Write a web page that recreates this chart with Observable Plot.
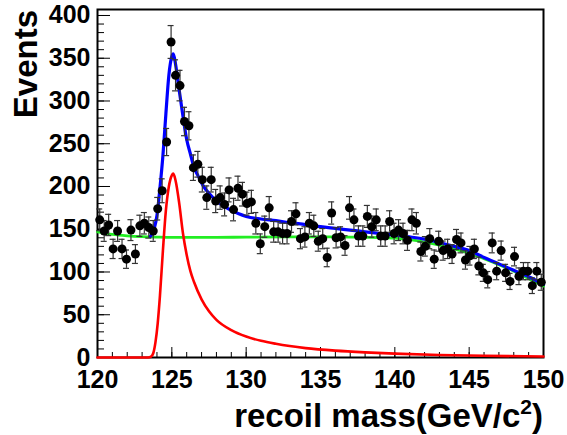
<!DOCTYPE html>
<html><head><meta charset="utf-8">
<script src="https://cdn.jsdelivr.net/npm/d3@7"></script>
<script src="https://cdn.jsdelivr.net/npm/@observablehq/plot@0.6"></script>
<style>body{margin:0;background:#fff}#chart{width:567px;height:435px}</style>
</head><body><div id="chart"></div>
<script>
// Histogram: 100 bins of 0.3 GeV from 120 to 150
const histLow = 120, binWidth = 0.3;
const counts = [161,148,155,127,148,127,115,149,121,154,
  157,152,148,174,195,252,369,330,318,276,
  271,222,226,208,187,208,183,187,179,196,
  173,198,191,180,182,157,133,153,175,147,
  147,145,145,159,168,139,141,157,154,136,
  139,117,169,140,141,131,175,161,142,142,
  165,153,161,142,142,159,145,149,145,137,
  161,157,124,130,139,115,136,125,127,121,
  138,134,114,119,127,107,99,91,134,101,
  125,99,89,118,95,101,101,84,101,88];

// Signal (red)
const redX = [120,123.4,123.6,123.75,123.9,124.05,124.2,124.4,124.6,124.8,125.0,125.1,125.25,125.5,125.75,126.0,126.25,126.5,127,127.5,128,129,130,131,132,134,136,138,140,143,146,150];
const redY = [0,0,1,5,18,40,72,125,172,200,213,215,207,180,145,120,101,88,68,54,44,32,24.5,19.5,16,11,8,6,4.5,3,2,1.2];
// Background (green)
const greenX = [120,121,122,123,124,125,128,130,133,136,138,139,140,141,142,143,144,145,146,147,148,149,150];
const greenY = [147,144,142.3,141.3,140.8,140.5,140.5,140.8,141,141,140.5,140.2,139.5,137.8,135,131.3,127,122,115.5,108.5,101,92.5,83.5];
// Total fit (blue)
const blueX = [123.55,123.8,124.0,124.2,124.4,124.6,124.8,125.0,125.1,125.25,125.45,125.7,126.0,126.25,126.5,126.75,127.1,127.5,128,128.5,129,129.5,130,131,132,133,134,135,136,137,138,139,140,141,142,143,144,145,146,147,148,149,150];
const blueY = [141.5,150,166,198,236,285,330,352,355,343,318,288,255,238,222,213,201,192,183,177,172,168,165,162,160,157.5,155.5,153,151,149,147,145,143,141,138.5,134.5,130,125,117,109.5,102,94.5,85.5];

const xMajor = [120,125,130,135,140,145,150];
const xMinor = d3.range(120, 151, 1);
const yMajor = [0,50,100,150,200,250,300,350,400];
const yMinor = d3.range(0, 401, 10);
const xMin = 120, xMax = 150, yMin = 0, yMax = 407;

const data = counts.map((n, i) => ({x: histLow + binWidth * (i + 0.5), y: n, e: Math.sqrt(n)}));
const red = redX.map((x, i) => ({x, y: redY[i]}));
const green = greenX.map((x, i) => ({x, y: greenY[i]}));
const blue = blueX.map((x, i) => ({x, y: blueY[i]}));

const plot = Plot.plot({
  width: 567, height: 435,
  marginLeft: 97, marginRight: 24, marginTop: 9, marginBottom: 78,
  style: {fontFamily: "'Liberation Sans', Arial, sans-serif", fontSize: "25px", fontWeight: "bold", background: "white", overflow: "visible"},
  x: {domain: [xMin, xMax]},
  y: {domain: [yMin, yMax]},
  marks: [
    Plot.axisX({ticks: xMajor, tickSize: 0, tickPadding: 13, label: null, tickFormat: d => String(d)}),
    Plot.axisY({ticks: yMajor, tickSize: 0, tickPadding: 7, label: null, tickFormat: d => String(d)}),
    Plot.ruleY(yMinor, {y: d => d, x1: () => xMin, x2: () => xMin, insetRight: -7, stroke: "black", strokeWidth: 1}),
    Plot.ruleY(yMajor, {y: d => d, x1: () => xMin, x2: () => xMin, insetRight: -13, stroke: "black", strokeWidth: 1}),
    Plot.ruleX(xMinor, {x: d => d, y1: () => yMin, y2: () => yMin, insetTop: -5, stroke: "black", strokeWidth: 1}),
    Plot.ruleX(xMajor, {x: d => d, y1: () => yMin, y2: () => yMin, insetTop: -10, stroke: "black", strokeWidth: 1}),
    Plot.frame({stroke: "black", strokeWidth: 2}),
    Plot.line(green, {x: "x", y: "y", stroke: "#22ee22", strokeWidth: 2.8, curve: "monotone-x"}),
    Plot.line(red, {x: "x", y: "y", stroke: "#ff0000", strokeWidth: 2.6, curve: "monotone-x"}),
    Plot.line(blue, {x: "x", y: "y", stroke: "#0000ff", strokeWidth: 3.2, curve: "monotone-x"}),
    Plot.ruleX(data, {x: "x", y1: d => d.y - d.e, y2: d => d.y + d.e, stroke: "#333", strokeWidth: 1.2}),
    Plot.ruleY(data, {y: d => d.y - d.e, x1: "x", x2: "x", insetLeft: -3, insetRight: -3, stroke: "#333", strokeWidth: 1.2}),
    Plot.ruleY(data, {y: d => d.y + d.e, x1: "x", x2: "x", insetLeft: -3, insetRight: -3, stroke: "#333", strokeWidth: 1.2}),
    Plot.dot(data, {x: "x", y: "y", r: 4.5, fill: "black", stroke: "none"})
  ]
});

const svg = d3.select(plot);
svg.append("text")
  .attr("transform", "translate(37,10) rotate(-90)")
  .attr("text-anchor", "end")
  .attr("font-size", 33).attr("font-weight", "bold")
  .attr("font-family", "'Liberation Sans', Arial, sans-serif")
  .attr("fill", "black")
  .text("Events");
const xt = svg.append("text")
  .attr("x", 543).attr("y", 427)
  .attr("text-anchor", "end")
  .attr("font-size", 33).attr("font-weight", "bold")
  .attr("font-family", "'Liberation Sans', Arial, sans-serif")
  .attr("fill", "black");
xt.append("tspan").text("recoil mass(GeV/c");
xt.append("tspan").attr("font-size", 21).attr("dy", -13).text("2");
xt.append("tspan").attr("dy", 13).text(")");

document.getElementById("chart").appendChild(plot);
</script>
</body></html>
